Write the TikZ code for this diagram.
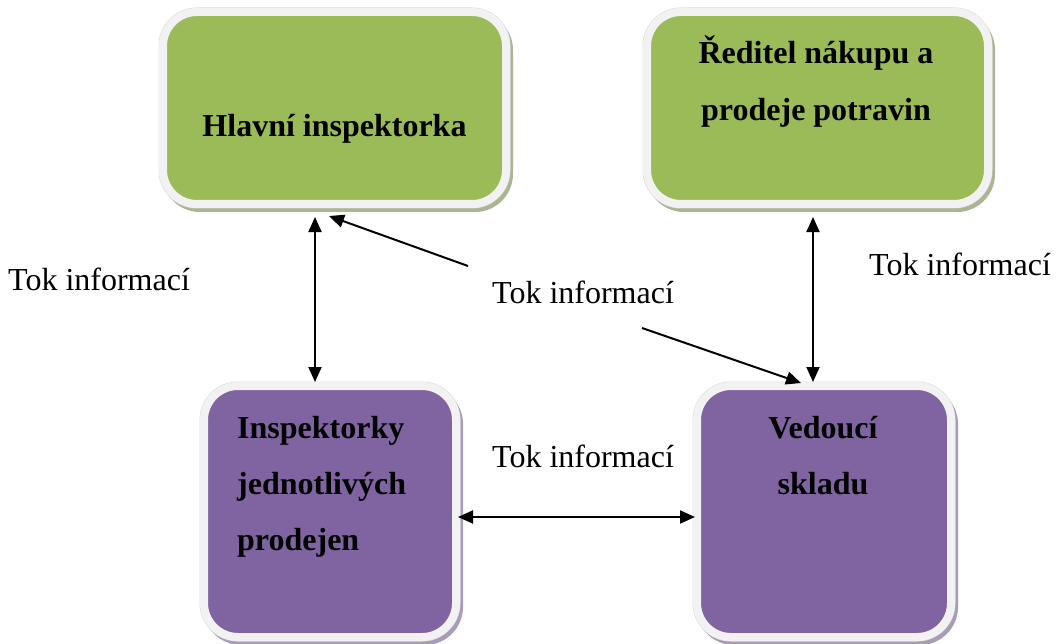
\documentclass[tikz,border=0pt]{standalone}
\usepackage{fontspec}
\setmainfont{Liberation Serif}
\usetikzlibrary{arrows.meta}

\definecolor{boxgreen}{HTML}{9BBB59}
\definecolor{boxpurple}{HTML}{8064A2}
\definecolor{rim}{HTML}{F2F2F2}
\definecolor{rimedge}{HTML}{DADADA}
\definecolor{greenshade}{HTML}{A9B693}
\definecolor{purpleshade}{HTML}{A99CB8}

\tikzset{
  box/.style={rounded corners=34pt, line width=8pt, inner sep=0pt, outer sep=4pt,
    draw=rim, fill=#1},
  shade/.style={preaction={draw=#1, fill=#1, line width=8pt,
    transform canvas={shift={(3pt,-4pt)}}},
    preaction={draw=rimedge, line width=9pt}},
  boxtext/.style={font=\bfseries\fontsize{32}{38}\selectfont, inner sep=0pt},
  flowtext/.style={font=\fontsize{32}{38}\selectfont, inner sep=0pt, anchor=base west},
  flow/.style={line width=2pt, -{Triangle[length=15pt,width=13pt]}},
  flow2/.style={line width=2pt, {Triangle[length=15pt,width=13pt]}-{Triangle[length=15pt,width=13pt]}},
}

\begin{document}
\begin{tikzpicture}[x=1pt, y=-1pt]
\useasboundingbox (0,0) rectangle (1056,644);

% boxes
\node[box=boxgreen, shade=greenshade, minimum width=343pt, minimum height=192pt] (hi) at (334.5,108) {};
\node[box=boxgreen, shade=greenshade, minimum width=341pt, minimum height=192pt] (rn) at (817.5,108) {};
\node[box=boxpurple, shade=purpleshade, minimum width=252pt, minimum height=251pt] (ip) at (330,511.5) {};
\node[box=boxpurple, shade=purpleshade, minimum width=254pt, minimum height=251pt] (vs) at (824,511.5) {};

% box captions
\node[boxtext, anchor=base] (hi1) at (334.5,137) {Hlavní inspektorka};
\node[boxtext, anchor=base] (rn1) at (816,64) {Ředitel nákupu a};
\node[boxtext, anchor=base] (rn2) at (816,121) {prodeje potravin};
\node[boxtext, anchor=base west] (ip1) at (237,438) {Inspektorky};
\node[boxtext, anchor=base west] (ip2) at (237,494) {jednotlivých};
\node[boxtext, anchor=base west] (ip3) at (237,550) {prodejen};
\node[boxtext, anchor=base] (vs1) at (823,438) {Vedoucí};
\node[boxtext, anchor=base] (vs2) at (823,494) {skladu};

% flow labels
\node[flowtext] (t1) at (8,290) {Tok informací};
\node[flowtext] (t2) at (492,303) {Tok informací};
\node[flowtext] (t3) at (869,275) {Tok informací};
\node[flowtext] (t4) at (492,467) {Tok informací};

% guide coordinates for the connectors
\coordinate (vl) at (315,300);
\coordinate (vr) at (813,300);
\coordinate (hy) at (575,517);
\coordinate (d1) at (468,266);
\coordinate (d2) at (642,328);

% connectors
\draw[flow2, shorten <=9pt] (hi.south -| vl) -- (ip.north -| vl);
\draw[flow2, shorten <=9pt] (rn.south -| vr) -- (vs.north -| vr);
\draw[flow2, shorten <=-2pt, shorten >=-2pt] (ip.east |- hy) -- (vs.west |- hy);
\draw[flow] (d1) -- ([xshift=-5.5pt,yshift=-8pt]hi.south);
\draw[flow] (d2) -- ([xshift=-23pt,yshift=-1pt]vs.north);
\end{tikzpicture}
\end{document}
